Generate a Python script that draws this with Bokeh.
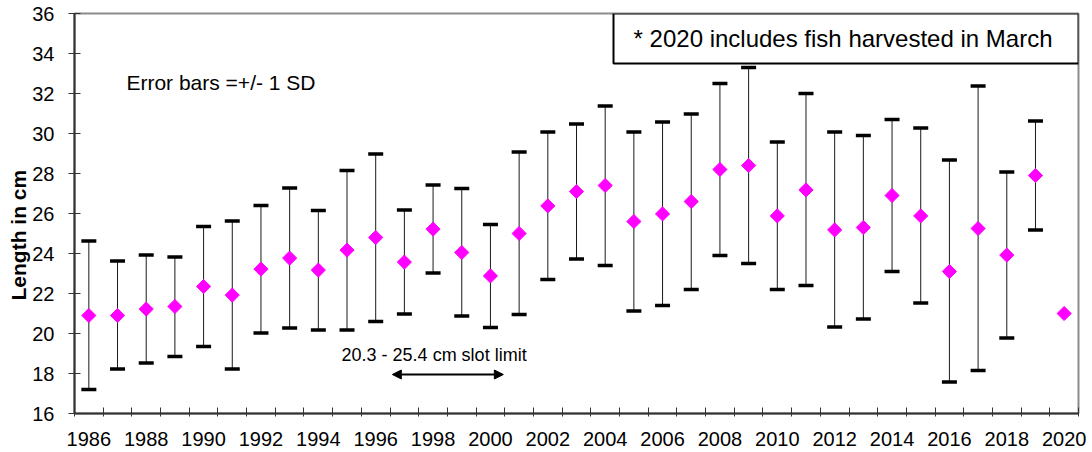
import math
from bokeh.plotting import figure
from bokeh.models import (Range1d, FixedTicker, Label, BoxAnnotation, Arrow, NormalHead,
                          ColumnDataSource, Title)
from bokeh.embed import file_html
from bokeh.resources import INLINE

nan = float("nan")

years = list(range(1986, 2021))
mean_len = [20.9, 20.9, 21.22, 21.35, 22.35, 21.92, 23.22, 23.77, 23.17, 24.17,
            24.8, 23.57, 25.22, 24.05, 22.88, 25.0, 26.38, 27.1, 27.4, 25.6,
            25.98, 26.6, 28.2, 28.4, 25.88, 27.18, 25.18, 25.3, 26.9, 25.88,
            23.1, 25.25, 23.92, 27.9, 21.0]
upper_sd = [24.62, 23.62, 23.93, 23.83, 25.35, 25.62, 26.4, 27.27, 26.15, 28.15,
            28.98, 26.18, 27.42, 27.25, 25.45, 29.07, 30.08, 30.48, 31.38, 30.08,
            30.58, 30.98, 32.5, 33.3, 29.58, 32.0, 30.08, 29.9, 30.7, 30.27,
            28.67, 32.37, 28.07, 30.63, nan]
lower_sd = [17.2, 18.22, 18.53, 18.85, 19.35, 18.22, 20.02, 20.27, 20.17, 20.17,
            20.6, 20.98, 23.02, 20.88, 20.3, 20.95, 22.7, 23.72, 23.4, 21.12,
            21.4, 22.2, 23.9, 23.5, 22.2, 22.4, 20.32, 20.72, 23.1, 21.53,
            17.57, 18.15, 19.78, 25.17, nan]
x_tick_labels = list(range(1986, 2021, 2))
y_ticks = list(range(16, 37, 2))

FONT = "Liberation Sans"

src = ColumnDataSource(dict(year=years, mean=mean_len, upper=upper_sd, lower=lower_sd))

p = figure(width=1092, height=452, output_backend="svg", toolbar_location=None,
           x_range=Range1d(1985.5, 2020.5), y_range=Range1d(16, 36),
           min_border_left=74, min_border_right=14, min_border_top=13, min_border_bottom=39,
           background_fill_color="white", border_fill_color="white")
p.grid.visible = False
p.outline_line_color = "#8c8c8c"
p.outline_line_width = 2

# x axis
xa = p.xaxis[0]
xa.ticker = FixedTicker(ticks=x_tick_labels, minor_ticks=[y - 0.5 for y in years] + [2020.5])
xa.major_tick_in = 0
xa.major_tick_out = 0
xa.minor_tick_in = 6
xa.minor_tick_out = 3
xa.minor_tick_line_color = "#333333"
xa.minor_tick_line_width = 1
xa.axis_line_color = "#333333"
xa.axis_line_width = 2
xa.major_label_standoff = 15
xa.major_label_text_font = FONT
xa.major_label_text_font_size = "20px"
xa.major_label_text_color = "black"

# y axis
ya = p.yaxis[0]
ya.ticker = FixedTicker(ticks=y_ticks, minor_ticks=[])
ya.major_tick_in = 6
ya.major_tick_out = 6
ya.minor_tick_in = 0
ya.minor_tick_out = 0
ya.major_tick_line_color = "#333333"
ya.axis_line_color = "#333333"
ya.axis_line_width = 2
ya.major_label_standoff = 14
ya.major_label_text_font = FONT
ya.major_label_text_font_size = "20px"
ya.major_label_text_color = "black"

# y axis title
p.add_layout(Title(text="Length in cm", align="left", offset=113, standoff=0,
                   text_font=FONT, text_font_size="21px", text_font_style="bold",
                   text_color="black"), "left")

# error bars
p.segment(x0="year", y0="lower", x1="year", y1="upper", source=src,
          line_color="#1a1a1a", line_width=1)
p.scatter(x="year", y="upper", source=src, marker="dash", size=15,
          line_color="black", line_width=3.5)
p.scatter(x="year", y="lower", source=src, marker="dash", size=15,
          line_color="black", line_width=3.5)
# means
p.scatter(x="year", y="mean", source=src, marker="square", angle=math.pi / 4,
          size=10, fill_color="#ff00ff", line_color="#ff00ff", line_width=1)

# note box
p.add_layout(BoxAnnotation(left=2004.29, right=2020.5, bottom=33.5, top=36,
                           fill_color="white", fill_alpha=1.0,
                           line_color="black", line_alpha=1.0, line_width=2,
                           level="annotation"))
p.add_layout(Label(x=2004.99, y=34.77, text="* 2020 includes fish harvested in March",
                   text_font=FONT, text_font_size="24px", text_color="black",
                   text_baseline="alphabetic", text_align="left"))

p.add_layout(Label(x=1987.31, y=32.55, text="Error bars =+/- 1 SD",
                   text_font=FONT, text_font_size="21px", text_color="black",
                   text_baseline="alphabetic", text_align="left"))

p.add_layout(Label(x=1994.81, y=18.92, text="20.3 - 25.4 cm slot limit",
                   text_font=FONT, text_font_size="18px", text_color="black",
                   text_baseline="alphabetic", text_align="left"))

p.add_layout(Arrow(x_start=1996.58, y_start=17.95, x_end=2000.45, y_end=17.95,
                   line_color="black", line_width=2,
                   start=NormalHead(size=9, fill_color="black", line_color="black"),
                   end=NormalHead(size=9, fill_color="black", line_color="black")))

open("out.html", "w").write(file_html(p, INLINE))
